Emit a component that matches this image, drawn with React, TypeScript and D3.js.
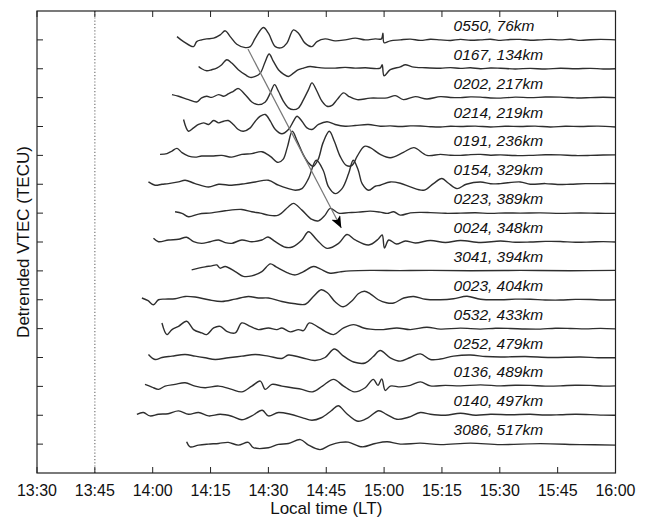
import React from "react";
import * as d3 from "d3";

// Detrended VTEC series per GPS station, stacked with a fixed offset.
// Time is minutes after 13:30 LT, values are TECU.
const STATIONS = ["0550", "0167", "0202", "0214", "0191", "0154", "0223", "0024", "3041", "0023", "0532", "0252", "0136", "0140", "3086"];
const DISTANCES_KM = [76, 134, 217, 219, 236, 329, 389, 348, 394, 404, 433, 479, 489, 497, 517];
const TIME_TICK_LABELS = ["13:30", "13:45", "14:00", "14:15", "14:30", "14:45", "15:00", "15:15", "15:30", "15:45", "16:00"];
const TICK_STEP_MIN = 15;
const OFFSET_STEP = 0.3;
const EVENT_TIME = 15; // 13:45 LT, dotted marker

const S0550 = [[36.3,0.034],[38.0,-0.018],[40.6,-0.07],[41.4,-0.018],[42.7,0],[44.0,0.01],[45.8,0.018],[47.5,0.052],[48.8,0.094],[50.1,0.034],[51.8,-0.045],[54.0,-0.08],[55.3,-0.07],[56.6,0.018],[58.7,0.128],[60.0,0.07],[61.8,-0.07],[63.5,-0.08],[64.8,-0.034],[66.5,0.104],[67.8,0.07],[69.5,-0.034],[71.3,-0.07],[72.6,-0.018],[74.7,0.01],[77.3,-0.01],[79.9,0],[82.5,0.018],[85.1,0],[87.7,0.01],[89.3,0.01],[89.7,0.07],[90.0,-0.03],[91.6,-0.01],[94.2,0],[96.8,0.008],[99.4,-0.005],[102.0,0.006],[104.6,0],[107.2,-0.006],[109.8,0.005],[112.4,-0.004],[115.0,0],[117.6,0.006],[120.2,-0.005],[122.7,0.004],[125.3,0.005],[127.9,-0.004],[130.5,0],[133.1,0.005],[135.7,0],[138.3,0.006],[140.9,-0.005],[143.5,0.002],[146.1,0.005],[150,0]];
const S0167 = [[41.9,0.024],[42.7,0],[44.0,-0.021],[45.3,-0.01],[46.6,0.007],[47.9,0.042],[49.2,0.094],[50.5,0.059],[52.2,-0.01],[54.0,-0.062],[55.3,-0.09],[56.6,-0.08],[57.9,-0.045],[59.2,0.076],[60.2,0.153],[61.3,0.076],[62.6,-0.01],[63.9,-0.055],[65.2,-0.08],[66.5,-0.045],[67.8,-0.01],[69.1,0.007],[70.8,0.024],[72.6,0.014],[74.7,0.007],[77.3,0.007],[79.9,0.014],[82.5,0.007],[85.1,0.01],[89.0,0.007],[89.5,0.042],[90.0,-0.073],[91.6,-0.01],[94.2,0.02],[95.5,0.042],[97.3,0.02],[100.7,0.01],[104.6,0.005],[107.2,0.012],[109.8,0.004],[112.4,0.01],[115.0,0],[117.6,0.008],[120.2,0.005],[124.0,-0.002],[127.9,0.004],[131.8,-0.003],[135.7,0.005],[139.6,0],[143.5,0.004],[146.8,-0.002],[150,0]];
const S0202 = [[35.0,0.031],[36.7,0.014],[39.3,-0.021],[41.4,-0.045],[42.7,-0.003],[44.0,0.014],[45.3,0.003],[47.1,0.031],[48.4,0.014],[49.6,0.038],[50.9,0.066],[52.2,0.094],[54.0,0.031],[55.7,-0.045],[57.4,-0.073],[59.2,-0.045],[60.5,0.049],[61.6,0.135],[62.6,0.066],[63.9,-0.038],[65.2,-0.107],[66.5,-0.125],[67.8,-0.107],[69.1,-0.021],[70.4,0.083],[71.3,0.153],[72.6,0.066],[73.9,-0.038],[75.2,-0.09],[76.5,-0.08],[77.8,-0.021],[79.5,0.049],[80.8,0.014],[83.0,-0.021],[86.4,-0.005],[90.8,-0.003],[92.9,0.021],[95.0,-0.021],[98.1,0.01],[101.1,-0.014],[104.6,0.01],[107.2,0.002],[109.8,0],[112.4,0.008],[115.0,0.005],[117.6,-0.004],[120.2,-0.005],[124.0,0.005],[127.9,0],[131.8,0.006],[135.7,0.005],[139.6,-0.003],[143.5,0],[146.8,0.004],[150,0]];
const S0214 = [[38.0,0.073],[39.3,-0.049],[40.6,-0.014],[41.9,0.021],[43.2,0.038],[44.5,0.021],[45.8,0.062],[47.1,0.038],[48.4,0.055],[49.6,0.062],[50.9,0.021],[52.2,-0.031],[53.5,-0.049],[55.3,-0.014],[56.6,0.055],[57.9,0.107],[59.2,0.125],[60.5,0.055],[61.8,-0.031],[63.5,-0.076],[65.2,-0.031],[66.5,0.055],[67.4,0.107],[68.7,0.055],[70.0,-0.014],[71.3,-0.031],[73.0,0.021],[75.2,0.049],[77.3,0.021],[79.9,0.003],[82.5,0.01],[85.9,0.021],[89.0,0.003],[91.6,0.006],[94.2,0],[96.8,0.006],[99.4,0.005],[102.0,-0.002],[104.6,-0.005],[107.2,0.003],[109.8,0],[113.7,0.004],[117.6,-0.005],[121.4,0.003],[125.3,0],[129.2,0.004],[133.1,-0.005],[137.0,0.002],[140.9,0],[145.5,0.004],[150,-0.005]];
const S0191 = [[31.9,0.01],[33.7,0.018],[35.0,0.045],[36.3,0.073],[37.6,0.028],[39.3,-0.007],[41.0,-0.018],[42.7,-0.007],[45.3,-0.007],[47.9,0],[50.5,-0.018],[53.1,0.01],[55.7,0.018],[58.3,0.038],[60.5,-0.01],[62.5,-0.073],[63.8,-0.042],[64.9,0.083],[66.2,0.25],[67.5,0.146],[69.0,0.01],[70.3,-0.073],[71.6,-0.114],[72.9,-0.042],[74.2,0.135],[75.8,0.25],[77.1,0.146],[78.6,-0.01],[80.2,-0.104],[81.7,-0.104],[83.0,-0.01],[84.9,0.094],[86.4,0.08],[89.0,0.01],[91.6,-0.024],[95.0,0.031],[97.7,0.08],[101.1,0],[104.6,0.01],[107.2,0.002],[109.8,0],[112.4,0.008],[115.0,0.01],[117.6,0.002],[120.2,0.005],[124.0,-0.002],[127.9,0],[131.8,0.006],[135.7,0.005],[139.6,-0.002],[143.5,0],[146.8,0.004],[150,0.005]];
const S0154 = [[28.9,0.024],[30.6,-0.01],[32.4,0],[34.1,0.007],[36.7,0.024],[38.4,0.042],[41.0,0.007],[44.5,-0.028],[47.1,0],[50.5,-0.01],[54.0,0.007],[56.6,0.024],[60.0,0.042],[62.6,-0.01],[65.2,-0.045],[67.0,-0.062],[68.7,-0.045],[70.4,0.059],[72.4,0.25],[74.2,0.146],[75.6,-0.028],[77.3,-0.097],[79.1,-0.045],[80.8,0.111],[82.0,0.25],[83.3,0.146],[84.3,0.007],[86.0,-0.062],[87.7,-0.021],[89.0,-0.01],[91.6,0.024],[94.2,0.01],[96.8,-0.028],[100.3,-0.062],[102.8,0.007],[105.0,0.059],[106.7,0.01],[108.9,-0.045],[111.3,0],[115.0,0.024],[117.6,0.005],[120.2,0.007],[125.3,0.024],[127.9,0],[131.8,0.007],[135.0,-0.003],[138.3,0],[142.2,0.006],[146.1,0.007],[150,0.007]];
const S0223 = [[35.8,0.014],[37.6,-0.003],[39.3,-0.038],[41.9,-0.01],[45.3,0.003],[48.8,0.024],[53.1,0.038],[55.7,0.014],[57.9,0],[60.0,-0.021],[62.6,-0.021],[65.2,0.066],[66.5,0.101],[68.7,0.031],[71.3,-0.066],[73.0,-0.08],[74.7,-0.021],[76.0,0.049],[78.2,0],[80.8,0.005],[83.3,0.01],[86.4,0.021],[89.0,0.01],[90.8,-0.003],[92.5,0.014],[94.2,-0.021],[96.8,0.003],[99.4,0.008],[102.0,0.005],[105.9,-0.002],[109.8,0],[113.7,0.004],[117.6,-0.003],[121.4,0.002],[125.3,0],[130.5,0.003],[135.7,-0.003],[140.9,0.002],[145.5,-0.002],[150,-0.003]];
const S0024 = [[30.2,0.038],[31.5,0.003],[34.1,0.021],[36.7,0.028],[38.8,0.049],[40.6,0.003],[42.7,-0.014],[44.9,0.003],[47.1,0.021],[48.8,-0.007],[50.5,-0.014],[53.1,0.021],[55.7,0.003],[58.3,0.021],[59.9,0.052],[61.8,0.003],[64.4,-0.055],[66.2,-0.052],[68.7,0.021],[70.4,0.107],[72.6,0.021],[75.2,-0.066],[78.2,-0.014],[80.4,0.078],[82.5,0.021],[86.0,-0.031],[88.5,0.031],[89.5,0.073],[90.1,-0.062],[91.2,0.021],[93.2,-0.021],[95.5,0.01],[98.1,-0.01],[102.0,0.016],[105.9,-0.005],[109.8,0.016],[115.0,-0.005],[120.2,0.01],[124.0,-0.002],[127.9,0],[131.8,0.006],[135.7,0.005],[139.6,-0.003],[143.5,0],[146.8,0.004],[150,0]];
const S3041 = [[40.1,0.01],[41.9,0.028],[43.6,0.042],[45.3,0.052],[46.6,0.062],[47.5,0.028],[48.8,0.045],[51.4,-0.007],[53.5,-0.057],[55.7,-0.052],[58.3,-0.007],[60.5,0.073],[62.0,0.042],[65.2,-0.024],[67.0,-0.042],[69.0,-0.01],[71.7,0.045],[73.4,0.021],[76.0,-0.024],[78.6,-0.01],[81.2,0],[86.4,0.005],[94.2,0.003],[102.0,0.005],[112.4,0.002],[125.3,0.005],[138.3,0.002],[150,0.005]];
const S0023 = [[27.2,0.018],[28.8,-0.01],[30.2,-0.052],[31.5,0],[33.2,0.007],[35.8,0.01],[38.4,0.034],[41.0,0.028],[44.5,0],[47.9,-0.018],[51.4,0.007],[54.8,0.034],[57.4,0.018],[60.0,0.018],[63.5,-0.018],[67.0,-0.042],[69.6,-0.047],[71.6,0.031],[73.7,0.104],[75.3,0.073],[77.3,-0.021],[79.4,-0.073],[81.7,-0.01],[83.3,0.062],[84.9,0.088],[86.4,0.062],[88.5,0],[90.6,-0.031],[92.5,-0.034],[95.1,0.018],[97.7,0.034],[100.7,0.005],[104.6,0],[108.0,0.01],[111.5,0.036],[115.0,0.005],[120.2,0],[124.0,0.006],[127.9,0.005],[131.8,-0.002],[135.7,-0.003],[139.6,0.004],[143.5,0.003],[146.8,-0.002],[150,0]];
const S0532 = [[32.4,0.059],[33.7,-0.062],[35.0,-0.01],[36.7,0.024],[38.8,0.076],[40.6,-0.01],[42.7,-0.045],[44.0,-0.062],[45.8,0.007],[47.5,0.024],[49.2,-0.028],[51.4,-0.045],[53.1,0.059],[55.3,0.024],[57.4,-0.01],[60.0,0.007],[62.2,-0.01],[63.5,0.007],[65.7,-0.034],[67.8,-0.01],[69.1,-0.021],[70.6,0.059],[72.6,0.024],[74.7,-0.028],[76.9,-0.062],[79.5,0.007],[82.1,0.042],[84.7,0.007],[86.4,-0.005],[89.8,-0.01],[93.3,0.007],[96.8,-0.01],[101.1,0.014],[104.6,-0.005],[109.8,0.005],[115.0,-0.005],[118.9,0.004],[122.7,0.002],[126.6,-0.004],[130.5,-0.005],[134.4,0.004],[138.3,0.002],[142.2,-0.003],[146.1,0.003],[150,-0.003]];
const S0252 = [[28.9,0.031],[30.6,-0.021],[32.4,0],[35.0,0.014],[38.4,0.031],[41.0,0.014],[43.6,-0.003],[46.2,-0.021],[49.6,-0.003],[53.1,0.014],[56.6,0.031],[60.0,0.014],[63.5,-0.01],[65.2,0.026],[68.7,-0.003],[72.1,-0.031],[74.7,0],[77.1,0.088],[79.5,0.014],[82.1,-0.047],[85.1,-0.057],[87.2,0.01],[89.0,0.073],[91.6,-0.003],[94.2,-0.038],[96.8,0],[99.4,0.038],[102.0,-0.021],[104.6,-0.016],[108.0,0.014],[112.4,0.026],[116.3,0.01],[120.2,0.005],[126.6,0.01],[133.1,0],[140.9,0.005],[145.5,-0.002],[150,-0.003]];
const S0136 = [[28.0,0.021],[29.8,-0.007],[31.5,-0.031],[33.2,0.003],[35.8,0.021],[38.4,0.038],[41.0,0.003],[43.6,-0.014],[47.1,0.003],[50.5,-0.031],[53.1,-0.057],[55.7,0.003],[57.9,0.055],[59.2,-0.031],[60.9,0.021],[63.5,0.003],[66.1,-0.014],[68.7,-0.031],[71.4,-0.057],[74.0,0.003],[76.9,0.073],[79.5,0.003],[82.3,-0.057],[85.1,-0.014],[87.2,0.073],[88.4,0.01],[89.4,0.078],[90.3,-0.042],[91.6,0.003],[94.2,-0.005],[96.8,0.01],[99.4,0.047],[102.0,0.005],[105.9,0.01],[109.8,0.005],[115.0,0.016],[120.2,0.005],[124.0,0.012],[127.9,0.01],[131.8,0.003],[135.7,0.005],[139.6,0.012],[143.5,0.01],[146.8,0.003],[150,0.005]];
const S0140 = [[25.9,0.01],[27.6,0.028],[29.3,-0.007],[31.5,0.01],[34.0,0.016],[36.7,0.045],[39.3,0.01],[41.9,0.028],[44.5,-0.007],[47.5,0.01],[50.5,-0.01],[53.1,-0.047],[55.7,-0.007],[58.4,0.052],[60.0,-0.007],[62.6,0.028],[65.7,0.01],[68.7,-0.024],[71.3,-0.052],[73.7,-0.026],[76.3,0.047],[78.1,0.099],[80.2,0.021],[83.2,-0.062],[85.9,-0.024],[88.6,0.047],[90.6,0.01],[93.3,-0.042],[96.3,-0.021],[99.4,0.028],[102.0,0.01],[105.9,0],[109.8,0.021],[113.7,0],[117.6,0.01],[122.7,0.005],[127.9,0.01],[131.8,0.002],[135.7,0.005],[139.6,0.01],[143.5,0.007],[146.8,0.001],[150,0]];
const S3086 = [[38.8,0.024],[39.7,-0.028],[41.9,-0.01],[44.4,0],[47.1,0.007],[49.6,0.018],[52.2,-0.01],[54.8,0.018],[56.1,-0.036],[60.0,-0.038],[62.6,-0.003],[65.2,0.007],[68.3,0.047],[70.4,-0.01],[73.4,-0.057],[76.0,-0.01],[78.6,0.018],[80.7,0.021],[84.3,-0.028],[87.7,0.007],[90.8,0.024],[94.2,0],[99.4,0.01],[104.6,-0.005],[112.4,0.01],[120.2,-0.005],[130.5,0.005],[140.9,-0.005],[150,-0.01]];

const SERIES = [S0550, S0167, S0202, S0214, S0191, S0154, S0223, S0024, S3041, S0023, S0532, S0252, S0136, S0140, S3086];

// Propagation arrow, in (minutes, stacked TECU)
const ARROW_FROM = [54.7, 4.405];
const ARROW_TO = [78.9, 2.545];

const W = 647;
const H = 518;
const PLOT = { left: 37, right: 615.5, top: 11, bottom: 473 };
const FONT = "Arial, 'Liberation Sans', Helvetica, sans-serif";

export default function App() {
  const n = STATIONS.length;
  const x = d3.scaleLinear().domain([0, 150]).range([PLOT.left, PLOT.right]);
  const y = d3.scaleLinear().domain([0, OFFSET_STEP * (n + 1)]).range([PLOT.bottom, PLOT.top]);
  const offsetOf = (i: number) => OFFSET_STEP * (n - i);
  const line = d3
    .line<number[]>()
    .x((d) => x(d[0]))
    .y((d) => y(d[1]))
    .curve(d3.curveCatmullRom.alpha(0.5));

  const tickMinutes = TIME_TICK_LABELS.map((_, i) => i * TICK_STEP_MIN);
  const offsets = STATIONS.map((_, i) => offsetOf(i));
  const labelTime = 108;

  return (
    <div style={{ position: "absolute", left: 0, top: 0 }}>
      <svg width={W} height={H} style={{ display: "block", background: "#fff" }}>
        <defs>
          <marker id="head" viewBox="0 0 12 10" refX="12" refY="5" markerWidth="12" markerHeight="10" markerUnits="userSpaceOnUse" orient="auto">
            <path d="M0,0 L12,5 L0,10 L3,5 Z" fill="#000" />
          </marker>
        </defs>

        {/* event time marker */}
        <line x1={x(EVENT_TIME)} x2={x(EVENT_TIME)} y1={PLOT.top} y2={PLOT.bottom} stroke="#777" strokeWidth={1.2} strokeDasharray="1.2,2" />

        {/* stacked traces */}
        {SERIES.map((s, i) => (
          <path key={STATIONS[i]} d={line(s.map((d) => [d[0], d[1] + offsets[i]])) || ""} fill="none" stroke="#2e2e2e" strokeWidth={1.4} strokeLinejoin="round" />
        ))}

        {/* station labels */}
        {STATIONS.map((st, i) => (
          <text key={"l" + st} x={x(labelTime)} y={y(offsets[i]) - 9} fontFamily={FONT} fontStyle="italic" fontSize={15.5} fill="#111">
            {`${st}, ${DISTANCES_KM[i]}km`}
          </text>
        ))}

        {/* propagation arrow */}
        <line x1={x(ARROW_FROM[0])} y1={y(ARROW_FROM[1])} x2={x(ARROW_TO[0])} y2={y(ARROW_TO[1])} stroke="#777" strokeWidth={1.2} markerEnd="url(#head)" />

        {/* frame */}
        <rect x={PLOT.left} y={PLOT.top} width={PLOT.right - PLOT.left} height={PLOT.bottom - PLOT.top} fill="none" stroke="#222" strokeWidth={1.2} />

        {/* x ticks, bottom and top */}
        {tickMinutes.map((m) => (
          <g key={"xt" + m}>
            <line x1={x(m)} x2={x(m)} y1={PLOT.bottom} y2={PLOT.bottom - 6} stroke="#222" />
            <line x1={x(m)} x2={x(m)} y1={PLOT.top} y2={PLOT.top + 6} stroke="#222" />
          </g>
        ))}
        {tickMinutes.map((m, i) => (
          <text key={"xl" + m} x={x(m)} y={496} textAnchor="middle" fontFamily={FONT} fontSize={16} fill="#111">
            {TIME_TICK_LABELS[i]}
          </text>
        ))}

        {/* y ticks at each trace baseline */}
        {offsets.map((o, i) => (
          <line key={"yt" + i} x1={PLOT.left} x2={PLOT.left + 6} y1={y(o)} y2={y(o)} stroke="#222" />
        ))}

        <text x={(PLOT.left + PLOT.right) / 2} y={514} textAnchor="middle" fontFamily={FONT} fontSize={17} fill="#111">
          Local time (LT)
        </text>
        <text transform={`translate(25,${(PLOT.top + PLOT.bottom) / 2}) rotate(-90)`} textAnchor="middle" dominantBaseline="middle" fontFamily={FONT} fontSize={17} fill="#111">
          Detrended VTEC (TECU)
        </text>
      </svg>
    </div>
  );
}
